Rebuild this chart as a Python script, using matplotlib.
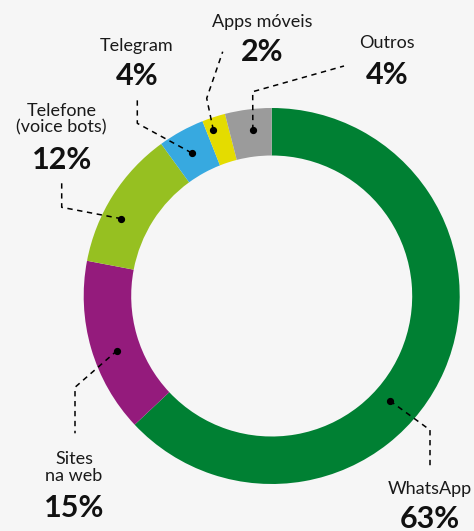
import numpy as np
import matplotlib.pyplot as plt

# shares of contact channels (%), clockwise from 12 o'clock
channels = ["WhatsApp", "Sites\nna web", "Telefone\n(voice bots)", "Telegram", "Apps móveis", "Outros"]
shares = [63, 15, 12, 4, 2, 4]
colors = ["#008033", "#941b7c", "#96c021", "#37a9e0", "#e4dc00", "#9b9b9b"]

# layout (pixel units, y measured upward)
W, H = 474, 531
center = (271.7, 235)
radius = 188
ring = 47.5
# position of the dot along each wedge (0 = start, 1 = end, clockwise) and its radius
dot_frac = [0.58, 0.44, 0.38, 0.47, 0.31, 0.55]
dot_rad = [158, 164, 169, 164, 176, 167]
# leader line bends and label anchors
bends = [
    [(430, 101), (430, 62.7)],
    [(75, 143.7), (75, 97.7)],
    [(61.7, 323.7), (61.7, 349.3)],
    [(137.3, 407.7), (137.3, 432.7)],
    [(206.7, 432.7), (222.7, 479.3)],
    [(252.7, 439.3), (344, 465)],
]
name_pos = [(430, 41.7), (74, 63.2), (61.7, 411.8), (136.7, 485.3), (262.7, 509.3), (386.7, 487.7)]
pct_pos = [(430, 11.7), (74, 22.7), (61.7, 371), (136.7, 455), (262, 479.3), (386.7, 456)]

plt.rcParams['font.family'] = ['Lato', 'DejaVu Sans']
fig = plt.figure(figsize=(W / 100, H / 100), dpi=100, facecolor="#f6f6f6")
ax = fig.add_axes([0, 0, 1, 1])
ax.set_facecolor("#f6f6f6")

wedges, _ = ax.pie(shares, colors=colors, startangle=90, counterclock=False,
                   center=center, radius=radius,
                   wedgeprops=dict(width=ring, linewidth=0))
ax.set_xlim(0, W)
ax.set_ylim(0, H)
ax.set_aspect("equal")
ax.axis("off")

for i, w in enumerate(wedges):
    # clockwise wedge: drawing starts at theta2 and ends at theta1
    ang = np.deg2rad(w.theta2 - dot_frac[i] * (w.theta2 - w.theta1))
    dx = center[0] + dot_rad[i] * np.cos(ang)
    dy = center[1] + dot_rad[i] * np.sin(ang)
    pts = [(dx, dy)] + bends[i]
    xs, ys = zip(*pts)
    ax.plot(xs, ys, color="black", lw=1.1, ls=(0, (3.5, 3)), zorder=3)
    ax.plot(dx, dy, "o", color="black", ms=4.2, zorder=4)
    ax.text(*name_pos[i], channels[i], ha="center", va="center", fontsize=13,
            color="#1a1a1a", linespacing=1.05)
    ax.text(*pct_pos[i], f"{shares[i]}%", ha="center", va="center", fontsize=22,
            fontweight="bold", color="#111111")

fig.savefig("out.png", dpi=100, facecolor=fig.get_facecolor())
